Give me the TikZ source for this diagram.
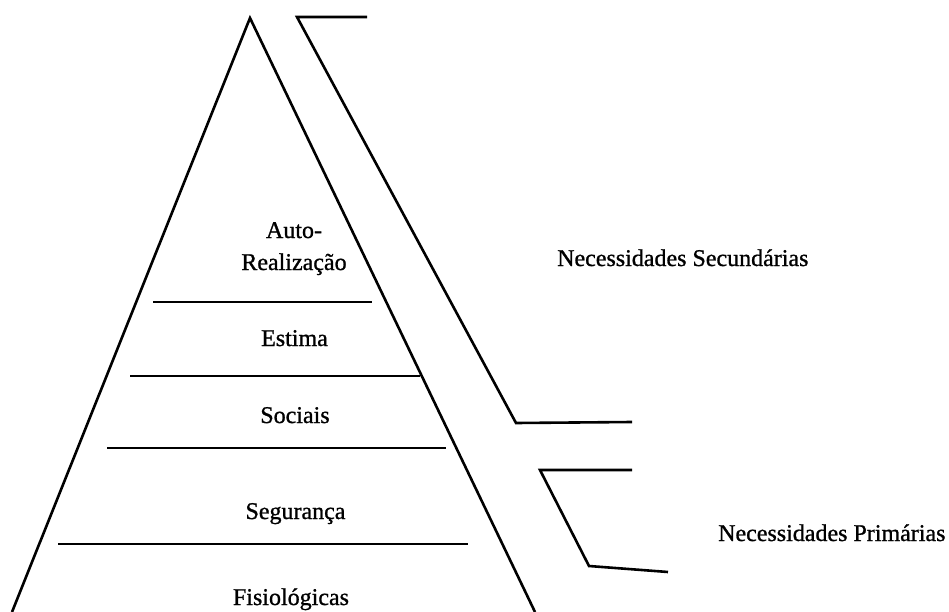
\documentclass[tikz,border=0pt]{standalone}
\usepackage{fontspec}
\setmainfont{Liberation Serif}
\newfontfamily\labelfont[FakeBold=1]{Liberation Serif}
\begin{document}
\begin{tikzpicture}[x=1pt,y=-1pt,
  edge/.style={line width=2.6pt, line join=miter},
  lbl/.style={anchor=base, inner sep=0pt, font=\labelfont\fontsize{24}{30}\selectfont}]
\useasboundingbox (0,0) rectangle (949,612);
% pyramid
\coordinate (bl) at (12,612);
\coordinate (apex) at (250,18);
\coordinate (br) at (535,612);
\draw[edge] (bl) -- (apex) -- (br);
% layer separators
\draw[edge] (153,302) -- (372,302);
\draw[edge] (130,376) -- (420,376);
\draw[edge] (107,448) -- (446,448);
\draw[edge] (58,544) -- (468,544);
% brackets
\draw[edge] (367,17) -- (297,17) -- (516,423) -- (632,422);
\draw[edge] (632,470) -- (540,470) -- (589,566) -- (668,572);
% labels
\node[lbl] (auto) at (294,238) {Auto-};
\node[lbl] (real) at (294,270) {Realização};
\node[lbl] (est) at (294.5,346) {Estima};
\node[lbl] (soc) at (295,423) {Sociais};
\node[lbl] (seg) at (295.5,519) {Segurança};
\node[lbl] (fis) at (291,605) {Fisiológicas};
\node[lbl, anchor=base west] (sec) at (557,266) {Necessidades Secundárias};
\node[lbl, anchor=base west] (pri) at (718,541) {Necessidades Primárias};
\end{tikzpicture}
\end{document}
